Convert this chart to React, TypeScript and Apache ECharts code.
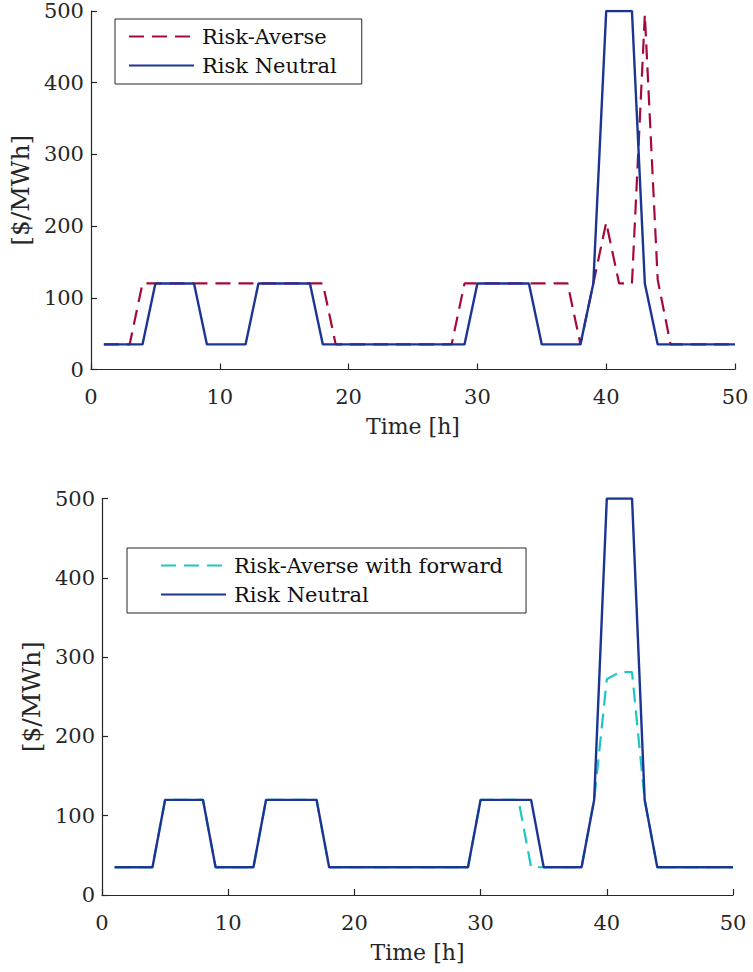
import React, { useEffect, useRef } from "react";
import * as echarts from "echarts";

const hours = [
  1, 2, 3, 4, 5, 6, 7, 8, 9, 10, 11, 12, 13, 14, 15, 16, 17, 18, 19, 20, 21, 22, 23, 24, 25,
  26, 27, 28, 29, 30, 31, 32, 33, 34, 35, 36, 37, 38, 39, 40, 41, 42, 43, 44, 45, 46, 47, 48, 49, 50,
];

// Top panel
const riskAverse = [
  35, 35, 35, 120, 120, 120, 120, 120, 120, 120, 120, 120, 120, 120, 120, 120, 120, 120, 35, 35,
  35, 35, 35, 35, 35, 35, 35, 35, 120, 120, 120, 120, 120, 120, 120, 120, 120, 35, 120, 205,
  120, 120, 495, 125, 35, 35, 35, 35, 35, 35,
];
const riskNeutralTop = [
  35, 35, 35, 35, 120, 120, 120, 120, 35, 35, 35, 35, 120, 120, 120, 120, 120, 35, 35, 35,
  35, 35, 35, 35, 35, 35, 35, 35, 35, 120, 120, 120, 120, 120, 35, 35, 35, 35, 120, 500,
  500, 500, 120, 35, 35, 35, 35, 35, 35, 35,
];

// Bottom panel
const riskAverseForward = [
  35, 35, 35, 35, 120, 120, 120, 120, 35, 35, 35, 35, 120, 120, 120, 120, 120, 35, 35, 35,
  35, 35, 35, 35, 35, 35, 35, 35, 35, 120, 120, 120, 120, 35, 35, 35, 35, 35, 120, 272,
  281, 281, 120, 35, 35, 35, 35, 35, 35, 35,
];
const riskNeutralBottom = [
  35, 35, 35, 35, 120, 120, 120, 120, 35, 35, 35, 35, 120, 120, 120, 120, 120, 35, 35, 35,
  35, 35, 35, 35, 35, 35, 35, 35, 35, 120, 120, 120, 120, 120, 35, 35, 35, 35, 120, 500,
  500, 500, 120, 35, 35, 35, 35, 35, 35, 35,
];

const xTickMin = 0;
const xTickMax = 50;
const xTickStep = 10;
const yTickMin = 0;
const yTickMax = 500;
const yTickStep = 100;

const xName = "Time [h]";
const yName = "[$/MWh]";

const FONT = "DejaVu Serif";
const AXIS_COLOR = "#262626";
const RED = "#A5093C";
const BLUE = "#1B3594";
const CYAN = "#1CC6C6";

const pairs = (vals: number[]) => hours.map((h, i) => [h, vals[i]]);

function xAxisCfg(gridIndex: number) {
  return {
    type: "value",
    gridIndex,
    min: xTickMin,
    max: xTickMax,
    interval: xTickStep,
    name: xName,
    nameLocation: "middle",
    nameGap: 46,
    nameTextStyle: { fontFamily: FONT, fontSize: 22, color: AXIS_COLOR },
    axisLine: { show: true, lineStyle: { color: AXIS_COLOR, width: 1.2 } },
    axisTick: { show: true, inside: true, length: 6, lineStyle: { color: AXIS_COLOR, width: 1.2 } },
    axisLabel: { fontFamily: FONT, fontSize: 21, color: AXIS_COLOR, margin: 17 },
    splitLine: { show: false },
  };
}

function yAxisCfg(gridIndex: number, nameGap: number) {
  return {
    type: "value",
    gridIndex,
    min: yTickMin,
    max: yTickMax,
    interval: yTickStep,
    name: yName,
    nameLocation: "middle",
    nameGap,
    nameTextStyle: { fontFamily: FONT, fontSize: 25, color: AXIS_COLOR },
    axisLine: { show: true, lineStyle: { color: AXIS_COLOR, width: 1.2 } },
    axisTick: { show: true, inside: true, length: 6, lineStyle: { color: AXIS_COLOR, width: 1.2 } },
    axisLabel: { fontFamily: FONT, fontSize: 21, color: AXIS_COLOR, margin: 7 },
    splitLine: { show: false },
  };
}

export default function App() {
  const ref = useRef<HTMLDivElement>(null);

  useEffect(() => {
    if (!ref.current) return;
    const chart = echarts.init(ref.current, undefined, { renderer: "svg" });
    const legendCommon = {
      orient: "vertical",
      itemWidth: 65,
      itemHeight: 14,
      itemGap: 8,
      borderColor: AXIS_COLOR,
      borderWidth: 1,
      backgroundColor: "#ffffff",
      selectedMode: false,
      itemStyle: { opacity: 0, borderWidth: 0 },
      textStyle: { fontFamily: FONT, fontSize: 21, color: "#111", padding: [0, 0, 0, 3] },
    };
    chart.setOption({
      animation: false,
      backgroundColor: "#ffffff",
      textStyle: { fontFamily: FONT },
      grid: [
        { left: 89, top: 11, width: 646, height: 358.5 },
        { left: 102, top: 498.5, width: 631, height: 396.5 },
      ],
      xAxis: [xAxisCfg(0), xAxisCfg(1)],
      yAxis: [yAxisCfg(0, 44), yAxisCfg(1, 57)],
      legend: [
        {
          ...legendCommon,
          left: 115,
          top: 19,
          padding: [7, 25, 8, 13],
          data: ["Risk-Averse", "Risk Neutral"],
        },
        {
          ...legendCommon,
          left: 127,
          top: 548,
          padding: [7, 23, 8, 33],
          data: ["Risk-Averse with forward", { name: "Risk Neutral " }],
        },
      ],
      series: [
        {
          name: "Risk-Averse",
          type: "line",
          xAxisIndex: 0,
          yAxisIndex: 0,
          data: pairs(riskAverse),
          symbol: "none",
          z: 2,
          lineStyle: { color: RED, width: 2.2, type: [15, 8] },
          itemStyle: { color: RED },
        },
        {
          name: "Risk Neutral",
          type: "line",
          xAxisIndex: 0,
          yAxisIndex: 0,
          data: pairs(riskNeutralTop),
          symbol: "none",
          z: 3,
          lineStyle: { color: BLUE, width: 2.4, type: "solid" },
          itemStyle: { color: BLUE },
        },
        {
          name: "Risk-Averse with forward",
          type: "line",
          xAxisIndex: 1,
          yAxisIndex: 1,
          data: pairs(riskAverseForward),
          symbol: "none",
          z: 2,
          lineStyle: { color: CYAN, width: 2.2, type: [15, 8] },
          itemStyle: { color: CYAN },
        },
        {
          name: "Risk Neutral ",
          type: "line",
          xAxisIndex: 1,
          yAxisIndex: 1,
          data: pairs(riskNeutralBottom),
          symbol: "none",
          z: 3,
          lineStyle: { color: BLUE, width: 2.4, type: "solid" },
          itemStyle: { color: BLUE },
        },
      ],
    });
    return () => chart.dispose();
  }, []);

  return (
    <div
      ref={ref}
      style={{ position: "absolute", left: 0, top: 0, width: 753, height: 972, background: "#fff" }}
    />
  );
}
